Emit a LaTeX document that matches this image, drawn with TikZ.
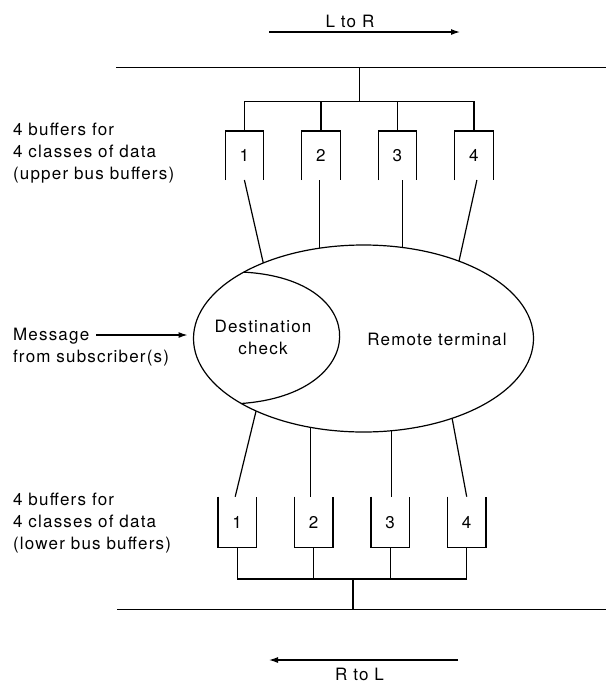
\documentclass[tikz,border=0pt]{standalone}
\usepackage{fontspec}
\setmainfont[LetterSpace=7]{TeX Gyre Heros}
\usetikzlibrary{arrows.meta,positioning,shapes.geometric}

\begin{document}
\begin{tikzpicture}[
    x=1pt, y=-1pt,
    font=\fontsize{17}{22}\selectfont,
    line width=1.2pt,
    node distance=38pt,
    buffer/.style={minimum width=38.5pt, minimum height=49pt, inner sep=0pt, outer sep=0pt},
    terminal/.style={draw, ellipse, minimum width=340pt, minimum height=187pt, inner sep=0pt, outer sep=0pt},
    note/.style={align=left, inner sep=0pt},
    bus/.style={line width=1.8pt},
    arrow/.style={-{Latex[length=9pt, width=6pt]}}
]
\useasboundingbox (0,0) rectangle (606,683);

\node (ltr) at (350,21) {L to R};
\coordinate (ltrS) at (269,32);
\coordinate (ltrE) at (460,32);
\draw[arrow] (ltrS) -- (ltrE);

\coordinate (ubusL) at (116,67.5);
\coordinate (ubusR) at (606,67.5);
\coordinate (utap) at (359.5,67.5);
\coordinate (ujoin) at (359.5,101.5);
\draw[bus] (ubusL) -- (ubusR);

\node[note, anchor=west] (ulabel) at (12.5,153) {4 buffers for\\4 classes of data\\(upper bus buffers)};
\node[buffer] (u1) at (244.4,155.5) {1};
\node[buffer, right=of u1] (u2) {2};
\node[buffer, right=of u2] (u3) {3};
\node[buffer, right=of u3] (u4) {4};
\draw (u1.south west) |- (u1.north east) -- (u1.south east);
\draw (u2.south west) |- (u2.north east) -- (u2.south east);
\draw (u3.south west) |- (u3.north east) -- (u3.south east);
\draw (u4.south west) |- (u4.north east) -- (u4.south east);

\draw (utap) -- (ujoin);
\draw (u1.north) |- (ujoin) -| (u4.north);
\draw (u2.north) -- (u2.north |- ujoin);
\draw (u3.north) -- (u3.north |- ujoin);

\node[terminal] (rt) at (363.5,338.5) {};
\node (rtlbl) at (437,339) {Remote terminal};
\draw (rt.151.8) .. controls +(130,7) and +(129,-9) .. (rt.208.4);
\node[align=center, inner sep=0pt] (dest) at (263,337.5) {Destination\\check};

\draw (u1.south) -- (rt.143.3);
\draw (rt.116.4) -- (rt.116.4 |- u2.south);
\draw (rt.67.5) -- (rt.67.5 |- u3.south);
\draw ([xshift=3pt]u4.south) -- (rt.39.7);

\node[note, anchor=west] (msg) at (12.5,347) {Message\\from subscriber(s)};
\coordinate (msgtail) at (96,335);
\draw[arrow] (msgtail) -- ([xshift=-6pt]msgtail -| rt.west);

\node[note, anchor=west] (llabel) at (12.5,523) {4 buffers for\\4 classes of data\\(lower bus buffers)};
\node[buffer, minimum height=51pt] (l1) at (237.2,522.2) {1};
\node[buffer, minimum height=51pt, right=of l1] (l2) {2};
\node[buffer, minimum height=51pt, right=of l2] (l3) {3};
\node[buffer, minimum height=51pt, right=of l3] (l4) {4};
\draw (l1.north west) |- (l1.south east) -- (l1.north east);
\draw (l2.north west) |- (l2.south east) -- (l2.north east);
\draw (l3.north west) |- (l3.south east) -- (l3.north east);
\draw (l4.north west) |- (l4.south east) -- (l4.north east);

\draw (rt.214.5) -- ([xshift=-2pt]l1.north);
\draw (rt.239.9) -- (rt.239.9 |- l2.north);
\draw (rt.287.8) -- (rt.287.8 |- l3.north);
\draw (rt.318.1) -- (l4.north);

\coordinate (ljoin) at (353,579);
\coordinate (ltap) at (353,609.5);
\coordinate (lbusL) at (117,609.5);
\coordinate (lbusR) at (606,609.5);
\draw (l1.south) |- (ljoin) -| (l4.south);
\draw (l2.south) -- (l2.south |- ljoin);
\draw (l3.south) -- (l3.south |- ljoin);
\draw (ljoin) -- (ltap);
\draw[bus] (lbusL) -- (lbusR);

\coordinate (rtlS) at (458,660);
\coordinate (rtlE) at (269,660);
\draw[arrow] (rtlS) -- (rtlE);
\node[inner sep=0pt] (rtl) at (359.5,674.5) {R to L};
\end{tikzpicture}
\end{document}
